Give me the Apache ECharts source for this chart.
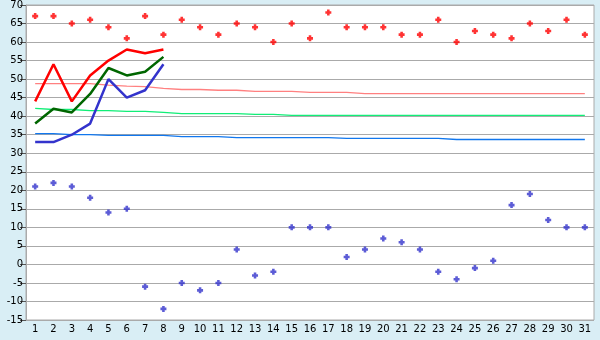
<!DOCTYPE html>
<html>
<head>
<meta charset="utf-8">
<script src="https://cdn.jsdelivr.net/npm/echarts@6/dist/echarts.min.js"></script>
<style>
html,body{margin:0;padding:0;background:#d9eef5;}
#c{width:600px;height:340px;}
</style>
</head>
<body>
<div id="c"></div>
<script>
var days = ['1','2','3','4','5','6','7','8','9','10','11','12','13','14','15','16','17','18','19','20','21','22','23','24','25','26','27','28','29','30','31'];
var yTicks = {min:-15, max:70, interval:5};

var recordHigh = [67,67,65,66,64,61,67,62,66,64,62,65,64,60,65,61,68,64,64,64,62,62,66,60,63,62,61,65,63,66,62];
var recordLow  = [21,22,21,18,14,15,-6,-12,-5,-7,-5,4,-3,-2,10,10,10,2,4,7,6,4,-2,-4,-1,1,16,19,12,10,10];

var maxTemp  = [44,54,44,51,55,58,57,58];
var meanTemp = [38,42,41,46,53,51,52,56];
var minTemp  = [33,33,35,38,50,45,47,54];

var normalMax  = [48.8,48.8,48.8,48.8,48.4,48.1,48.0,47.5,47.2,47.2,47.0,47.0,46.7,46.7,46.7,46.4,46.4,46.4,46.1,46.1,46.1,46.1,46.1,46.1,46.1,46.1,46.1,46.1,46.1,46.1,46.1];
var normalMean = [42.1,41.8,41.8,41.5,41.5,41.3,41.3,41.0,40.7,40.7,40.7,40.7,40.5,40.5,40.2,40.2,40.2,40.2,40.2,40.2,40.2,40.2,40.2,40.2,40.2,40.2,40.2,40.2,40.2,40.2,40.2];
var normalMin  = [35.3,35.3,35.0,35.0,34.8,34.8,34.8,34.8,34.5,34.5,34.5,34.2,34.2,34.2,34.2,34.2,34.2,34.0,34.0,34.0,34.0,34.0,34.0,33.7,33.7,33.7,33.7,33.7,33.7,33.7,33.7];

var plus = 'path://M2,0H5V2H7V5H5V7H2V5H0V2H2Z';
var font = {fontFamily:'DejaVu Sans', fontSize:10, color:'#000'};

function thin(name, data, color){
  return {name:name, type:'line', data:data, symbol:'none', z:2,
    lineStyle:{color:color, width:1.3}, silent:true, animation:false};
}
function thick(name, data, color){
  return {name:name, type:'line', data:data, symbol:'none', z:3,
    lineStyle:{color:color, width:2.5}, silent:true, animation:false};
}
function pts(name, data, color){
  return {name:name, type:'scatter', data:data, symbol:plus, symbolSize:6, z:4,
    itemStyle:{color:color}, silent:true, animation:false};
}

var chart = echarts.init(document.getElementById('c'), null, {renderer:'canvas'});
chart.setOption({
  backgroundColor:'#d9eef5',
  animation:false,
  grid:{left:26, right:6, top:5, bottom:20, show:true, backgroundColor:'#ffffff', borderColor:'#aaaaaa', borderWidth:1},
  xAxis:{type:'category', data:days, boundaryGap:true,
    axisLine:{lineStyle:{color:'#aaaaaa', width:1}},
    axisTick:{alignWithLabel:true, length:6, lineStyle:{color:'#555555'}},
    axisLabel:Object.assign({margin:4, interval:0}, font),
    splitLine:{show:false}},
  yAxis:{type:'value', min:yTicks.min, max:yTicks.max, interval:yTicks.interval,
    axisLine:{show:true, lineStyle:{color:'#aaaaaa', width:1}},
    axisTick:{show:true, length:6, lineStyle:{color:'#555555'}},
    axisLabel:Object.assign({margin:3}, font),
    splitLine:{lineStyle:{color:'#aaaaaa', width:1}}},
  series:[
    thin('Normal max', normalMax, '#ff8080'),
    thin('Normal mean', normalMean, '#11ee77'),
    thin('Normal min', normalMin, '#1177ee'),
    thick('Max', maxTemp, '#ff0000'),
    thick('Mean', meanTemp, '#006600'),
    thick('Min', minTemp, '#3333cc'),
    pts('Record high', recordHigh, '#ff0000'),
    pts('Record low', recordLow, '#3333cc')
  ]
});
</script>
</body>
</html>
